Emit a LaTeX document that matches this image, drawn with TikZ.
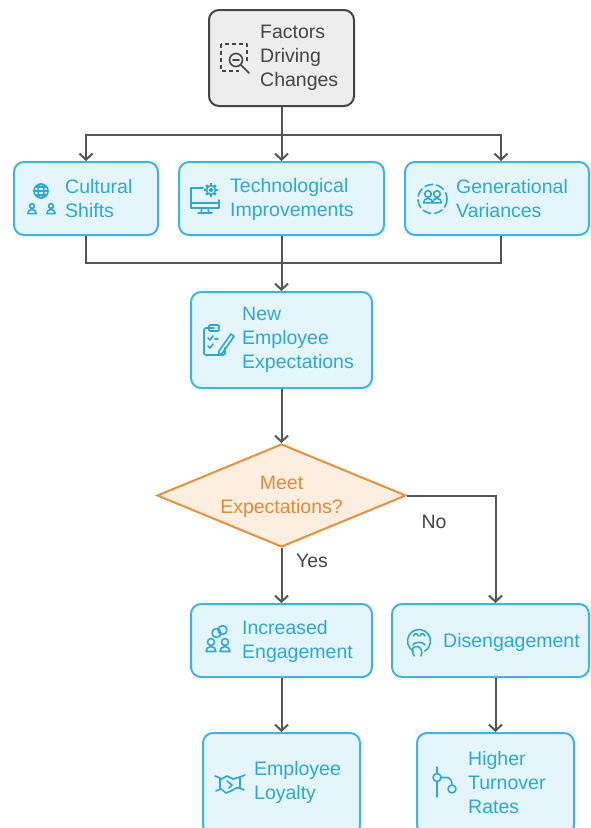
\documentclass[tikz,border=0pt]{standalone}
\usepackage{fontspec}
\setmainfont{Liberation Sans}
\usetikzlibrary{arrows.meta,shapes.geometric}
\definecolor{bbord}{HTML}{3DB5E3}
\definecolor{bfill}{HTML}{E4F6FC}
\definecolor{btext}{HTML}{2BA8D8}
\definecolor{gbord}{HTML}{454545}
\definecolor{gfill}{HTML}{EDEDED}
\definecolor{gtext}{HTML}{454545}
\definecolor{obord}{HTML}{E8913A}
\definecolor{ofill}{HTML}{FDEEDF}
\definecolor{otext}{HTML}{E3893A}
\definecolor{cline}{HTML}{555555}
\newcommand{\myperson}[4]{% x, head y, head r, body half width
  \draw[icon] (#1,#2) circle (#3);
  \draw[icon] (#1-#4,#2+#3+1+#4) arc[start angle=180,end angle=360,radius=#4] -- cycle;
}
\begin{document}
\begin{tikzpicture}[x=1pt,y=-1pt,
  box/.style={draw=bbord, fill=bfill, line width=2pt, rounded corners=10pt, inner sep=0pt},
  graybox/.style={draw=gbord, fill=gfill, line width=2pt, rounded corners=10pt, inner sep=0pt},
  txt/.style={font=\fontsize{19.5}{24}\selectfont, align=left, anchor=west, inner sep=0pt, text=btext},
  lbl/.style={font=\fontsize{19.5}{24}\selectfont, inner sep=0pt, text=gtext},
  line/.style={draw=cline, line width=2pt},
  arr/.style={line, -{Straight Barb[length=6pt,width=13pt]}},
  icon/.style={draw=btext, line width=1.6pt, line cap=round, line join=round},
  gicon/.style={draw=gtext, line width=1.6pt, line cap=round, line join=round}]
\useasboundingbox (0,0) rectangle (590,828);
\fill[white] (0,0) rectangle (590,828);

% boxes
\node[graybox, minimum width=145pt, minimum height=96pt] (top) at (281.5,58) {};
\node[box, minimum width=144pt, minimum height=73pt] (cult) at (86,198.5) {};
\node[box, minimum width=205pt, minimum height=73pt] (tech) at (281.5,198.5) {};
\node[box, minimum width=184pt, minimum height=73pt] (gen) at (497,198.5) {};
\node[box, minimum width=181pt, minimum height=96pt] (new) at (281.5,340) {};
\node[diamond, draw=obord, fill=ofill, line width=2pt, minimum width=249pt, minimum height=103pt, inner sep=0pt] (dia) at (281.5,495.5) {};
\node[box, minimum width=181pt, minimum height=73pt] (inc) at (281.5,640.5) {};
\node[box, minimum width=197pt, minimum height=73pt] (dis) at (490.5,640.5) {};
\node[box, minimum width=157pt, minimum height=102pt] (loy) at (281.5,784) {};
\node[box, minimum width=157pt, minimum height=102pt] (hig) at (495.5,784) {};

% texts
\node[txt, text=gtext] (topt) at (260,58) {Factors\\Driving\\Changes};
\node[txt] (cultt) at (65,199) {Cultural\\Shifts};
\node[txt] (techt) at (230,199) {Technological\\Improvements};
\node[txt] (gent) at (456,199) {Generational\\Variances};
\node[txt] (newt) at (242,340) {New\\Employee\\Expectations};
\node[txt, anchor=center, align=center, text=otext] (diat) at (281.5,497) {Meet\\Expectations?};
\node[txt] (inct) at (242,641) {Increased\\Engagement};
\node[txt] (dist) at (443,642) {Disengagement};
\node[txt] (loyt) at (254,782.5) {Employee\\Loyalty};
\node[txt] (higt) at (468,782.5) {Higher\\Turnover\\Rates};
\node[lbl] (nol) at (434,522) {No};
\node[lbl] (yesl) at (312,561) {Yes};

% connectors
\coordinate (split) at (281.5,135);
\coordinate (merge) at (281.5,263);
\draw[line] (top.south) -- (split);
\draw[arr] (split) -| (cult.north);
\draw[arr] (split) -- (tech.north);
\draw[arr] (split) -| ([xshift=4pt]gen.north);
\draw[line] (cult.south) |- (merge);
\draw[line] ([xshift=4pt]gen.south) |- (merge);
\draw[arr] (tech.south) -- (merge) -- (new.north);
\draw[arr] (new.south) -- (dia.north);
\draw[arr] (dia.east) -| (dis.north -| hig.north);
\draw[arr] (dia.south) -- (inc.north);
\draw[arr] (inc.south) -- (loy.north);
\draw[arr] (dis.south -| hig.north) -- (hig.north);

% icon: factors
\draw[gicon, line cap=butt, dash pattern=on 4pt off 3pt] (221,44) rectangle (247,71);
\fill[gfill] (239,63) rectangle (251,75);
\draw[gicon] (236,60) circle (6.5);
\draw[gicon] (233,60) -- (239,60);
\draw[gicon] (241,65) -- (249,73);

% icon: globe + people
\draw[icon] (41,191) circle (7);
\draw[icon] (41,191) ellipse [x radius=3, y radius=7];
\draw[icon] (34,191) -- (48,191);
\draw[icon] (35.5,187) -- (46.5,187);
\draw[icon] (35.5,195) -- (46.5,195);
\myperson{32}{206}{2.4}{4.2}
\myperson{51}{206}{2.4}{4.2}

% icon: monitor + gear
\draw[icon] (203,188) -- (191,188) -- (191,208) -- (219,208) -- (219,200);
\draw[icon] (191,203) -- (219,203);
\draw[icon] (202,208) -- (201,213) (208,208) -- (209,213) (198,213) -- (212,213);
\draw[icon] (211,190) circle (4.5);
\draw[icon] (211,190) circle (1.5);
\foreach \a in {0,45,...,315} \draw[icon, line width=2.4pt, line cap=butt] (211,190) ++(\a:4.5) -- ++(\a:2.3);

% icon: generational
\draw[icon, line cap=butt, dash pattern=on 9pt off 3pt] (432.5,199) circle (14.5);
\myperson{428}{194}{3.3}{4.5}
\myperson{437}{194}{3.3}{4.5}

% icon: clipboard + pencil
\draw[icon, rounded corners=1.5pt] (214,328) -- (204,328) -- (204,355) -- (225,355) -- (225,348);
\draw[icon, rounded corners=1pt] (209,325) rectangle (219,331);
\draw[icon] (208,338) -- (210,340) -- (213,336);
\draw[icon] (208,346) -- (210,348) -- (213,344);
\draw[icon] (215,339) -- (218,339);
\draw[icon] (219,351) -- (231,334) -- (234,336.5) -- (222,353.5) -- (218.5,355) -- cycle;

% icon: increased engagement
\draw[icon] (216.5,633) circle (4.5);
\draw[icon] (222.5,630) circle (4.5);
\myperson{211}{642}{3.5}{5}
\myperson{225}{642}{3.5}{5}

% icon: disengagement face
\draw[icon] (419,641) ++(120:11.5) arc[start angle=120, end angle=420, radius=11.5];
\draw[icon] (413.5,636) arc[start angle=180,end angle=360,radius=2.3];
\draw[icon] (420,636) arc[start angle=180,end angle=360,radius=2.3];
\draw[icon] (413,645) .. controls (414,641.5) and (424,641.5) .. (425,645);
\draw[icon] (414.5,656) .. controls (410,650) and (413,645.5) .. (418,646.5) .. controls (421,647.5) and (423,652) .. (421,656);

% icon: handshake
\draw[icon] (215,776) -- (220,778) -- (220,789) -- (216,791);
\draw[icon] (245,775) -- (240,777) -- (240,788) -- (244,790);
\draw[icon] (220,780) -- (227,776) -- (233,779) -- (240,777);
\draw[icon] (220,788) -- (226,793) -- (231,791) -- (236,788) -- (240,788);
\draw[icon] (227,781) -- (232,785) -- (229,788);

% icon: branch
\draw[icon] (437,767) -- (437,773.5);
\draw[icon] (437,777.5) circle (4);
\draw[icon] (437,781.5) -- (437,797);
\draw[icon] (441,777.5) -- (446,777.5) .. controls (450,777.5) and (452,780) .. (452,784.5);
\draw[icon] (452,789) circle (4);
\end{tikzpicture}
\end{document}
